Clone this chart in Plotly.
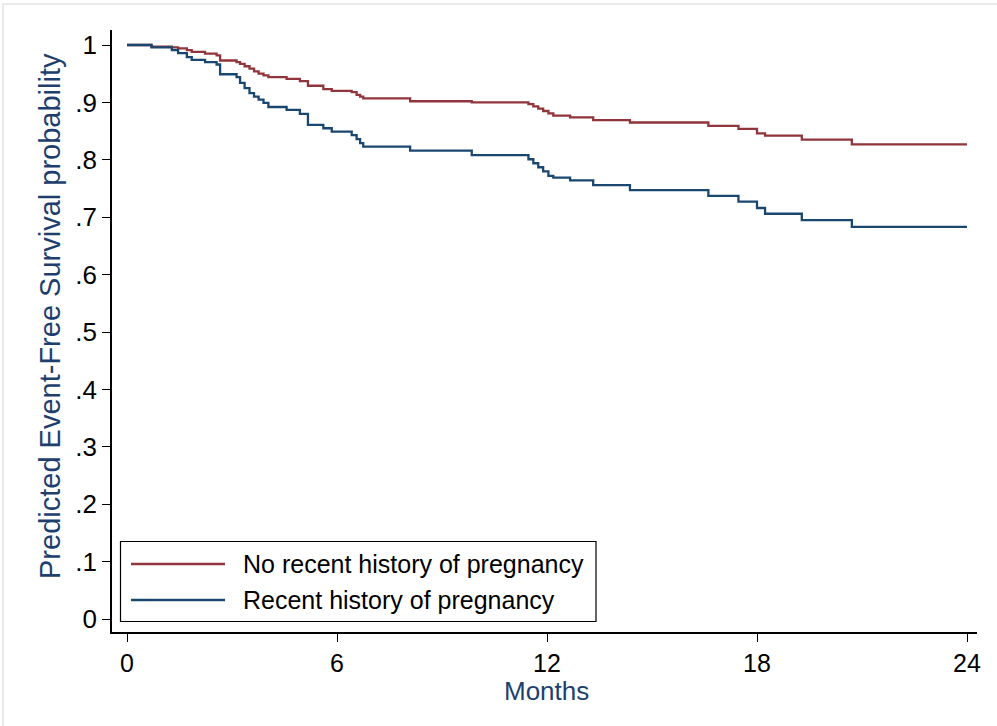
import plotly.graph_objects as go

# Event times (months) shared by both predicted curves
event_months = [0.70, 1.28, 1.46, 1.71, 1.85, 2.23, 2.56, 2.66, 3.13, 3.23,
                3.36, 3.50, 3.63, 3.76, 3.90, 4.04, 4.56, 4.94, 5.17, 5.61,
                5.85, 6.42, 6.56, 6.66, 6.75, 8.09, 9.85, 11.47, 11.61, 11.75,
                11.89, 12.04, 12.18, 12.66, 13.32, 14.37, 16.61, 17.47, 18.00, 18.23,
                19.28, 20.71]

# Predicted survival after each event time
surv_no_recent = [0.997, 0.996, 0.994, 0.991, 0.988, 0.985, 0.982, 0.973, 0.970, 0.967,
                  0.963, 0.959, 0.954, 0.950, 0.947, 0.944, 0.941, 0.937, 0.929, 0.923,
                  0.920, 0.918, 0.913, 0.910, 0.907, 0.902, 0.900, 0.897, 0.893, 0.889,
                  0.885, 0.881, 0.877, 0.874, 0.869, 0.865, 0.859, 0.854, 0.846, 0.842,
                  0.835, 0.827]
surv_recent = [0.996, 0.991, 0.986, 0.979, 0.974, 0.970, 0.966, 0.949, 0.944, 0.934,
               0.925, 0.916, 0.910, 0.905, 0.899, 0.892, 0.887, 0.880, 0.861, 0.855,
               0.849, 0.843, 0.836, 0.829, 0.823, 0.816, 0.808, 0.801, 0.794, 0.787,
               0.780, 0.772, 0.769, 0.764, 0.756, 0.747, 0.737, 0.727, 0.716, 0.706,
               0.695, 0.683]

follow_up_end = 24
series_names = ["No recent history of pregnancy", "Recent history of pregnancy"]
series_colors = ["#90353b", "#1a476f"]

x_ticks = [0, 6, 12, 18, 24]
y_ticks = [0, 0.1, 0.2, 0.3, 0.4, 0.5, 0.6, 0.7, 0.8, 0.9, 1]
y_tick_text = ["0", ".1", ".2", ".3", ".4", ".5", ".6", ".7", ".8", ".9", "1"]

x_title = "Months"
y_title = "Predicted Event-Free Survival probability"

FONT = "Liberation Sans, Arial, sans-serif"
TITLE_COLOR = "#1e3f6e"


def step_xy(values):
    xs = [0] + event_months + [follow_up_end]
    ys = [1.0] + values + [values[-1]]
    return xs, ys


fig = go.Figure()
for name, vals, col in zip(series_names, [surv_no_recent, surv_recent], series_colors):
    xs, ys = step_xy(vals)
    fig.add_trace(go.Scatter(x=xs, y=ys, mode="lines", name=name,
                             line=dict(color=col, width=2.3, shape="hv"),
                             showlegend=False))

# Plot-area geometry in pixels
W, H = 997, 726
L, R, T, B = 112, 977, 30, 632


def px(xp):
    return (xp - L) / (R - L)


def py(yp):
    return (B - yp) / (B - T)


shapes = []
# light outer frame
shapes.append(dict(type="rect", xref="paper", yref="paper",
                   x0=px(3), x1=px(1005), y0=py(735), y1=py(4),
                   line=dict(color="#e4e4e4", width=1.5), fillcolor="rgba(0,0,0,0)", layer="below"))
# legend box
shapes.append(dict(type="rect", xref="paper", yref="paper",
                   x0=px(120.5), x1=px(596), y0=py(621.5), y1=py(541.5),
                   line=dict(color="#000000", width=1.2), fillcolor="white"))
annotations = []
for i, (name, col) in enumerate(zip(series_names, series_colors)):
    yrow = 564 + i * 36
    shapes.append(dict(type="line", xref="paper", yref="paper",
                       x0=px(131), x1=px(225), y0=py(yrow), y1=py(yrow),
                       line=dict(color=col, width=2.3)))
    annotations.append(dict(xref="paper", yref="paper", x=px(241), y=py(yrow),
                            text=name, showarrow=False, xanchor="left", yanchor="middle",
                            font=dict(family=FONT, size=25, color="#000000")))

# axis titles
annotations.append(dict(xref="paper", yref="paper", x=px(546), y=py(691),
                        text=x_title, showarrow=False, xanchor="center", yanchor="middle",
                        font=dict(family=FONT, size=26, color=TITLE_COLOR)))
annotations.append(dict(xref="paper", yref="paper", x=px(50), y=py(316),
                        text=y_title, showarrow=False, textangle=-90,
                        xanchor="center", yanchor="middle",
                        font=dict(family=FONT, size=29, color=TITLE_COLOR)))

fig.update_layout(
    width=W, height=H,
    margin=dict(l=L, r=W - R, t=T, b=H - B, pad=0),
    paper_bgcolor="white", plot_bgcolor="white",
    shapes=shapes, annotations=annotations,
    font=dict(family=FONT, color="#000000"),
)
fig.update_xaxes(range=[(L - 127) / 35, (R - 127) / 35],
                 tickvals=x_ticks, ticktext=[str(v) for v in x_ticks],
                 ticks="outside", ticklen=8, tickwidth=1.3, tickcolor="#000000",
                 showline=True, linecolor="#000000", linewidth=1.5,
                 showgrid=False, zeroline=False,
                 tickfont=dict(family=FONT, size=25, color="#000000"))
fig.update_yaxes(range=[-(B - 619) / 574, 1 + (45 - T) / 574],
                 tickvals=y_ticks, ticktext=y_tick_text,
                 ticks="outside", ticklen=8, tickwidth=1.3, tickcolor="#000000",
                 showline=True, linecolor="#000000", linewidth=1.5,
                 showgrid=False, zeroline=False,
                 tickfont=dict(family=FONT, size=26, color="#000000"))

fig.write_html("out.html")
